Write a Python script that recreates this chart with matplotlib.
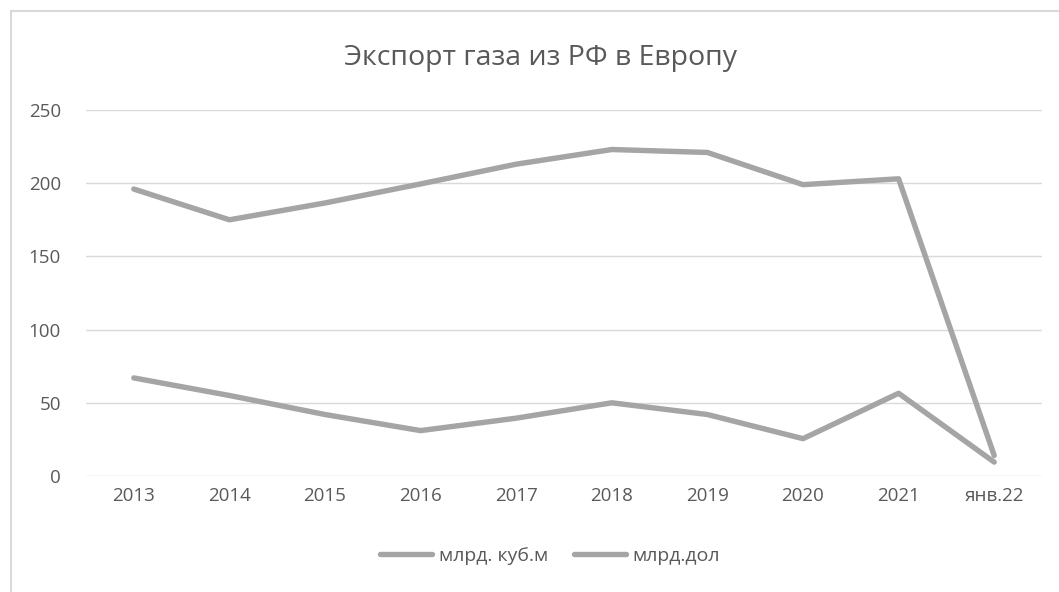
import matplotlib
matplotlib.use("Agg")
import matplotlib.pyplot as plt
from matplotlib.patches import Rectangle

plt.rcParams['font.family'] = ['Open Sans', 'DejaVu Sans']

categories = ['2013', '2014', '2015', '2016', '2017', '2018', '2019', '2020', '2021', 'янв.22']
volume_bcm = [196, 175, 186.5, 199.5, 213, 223, 221, 199, 203, 14]
value_busd = [67, 55, 42, 31, 39.5, 50, 42, 25.5, 56.5, 9.5]
yticks = [0, 50, 100, 150, 200, 250]

fig = plt.figure(figsize=(10.59, 5.92), dpi=100)
fig.patches.append(Rectangle((11/1059, -0.1), 1.2, 1.1 - 11/592, transform=fig.transFigure,
                             fill=False, edgecolor='#d9d9d9', linewidth=1.5))
ax = fig.add_axes([86/1059, 1 - 476/592, (1042 - 86)/1059, (476 - 110)/592])

x = list(range(len(categories)))
line_col = '#a5a5a5'
ax.plot(x, volume_bcm, color=line_col, lw=3.9, solid_capstyle='round', solid_joinstyle='round', label='млрд. куб.м')
ax.plot(x, value_busd, color=line_col, lw=3.9, solid_capstyle='round', solid_joinstyle='round', label='млрд.дол')

ax.set_xlim(-0.5, len(categories) - 0.5)
ax.set_ylim(0, 250)
ax.set_yticks(yticks)
ax.set_xticks(x)
ax.set_xticklabels(categories)
ax.grid(axis='y', color='#d9d9d9', lw=1.0)
ax.set_axisbelow(True)
for s in ax.spines.values():
    s.set_visible(False)
ax.tick_params(axis='both', length=0, colors='#595959', labelsize=13.5)
ax.tick_params(axis='x', pad=8)
ax.tick_params(axis='y', pad=18)

fig.text(540/1059, 1 - 58/592, 'Экспорт газа из РФ в Европу', ha='center', va='center',
         fontsize=20.5, color='#595959')

leg = fig.legend(loc='center', bbox_to_anchor=(550/1059, 1 - 556/592), ncol=2, frameon=False,
                 fontsize=14, handlelength=2.7, handletextpad=0.35, columnspacing=1.3)
for t in leg.get_texts():
    t.set_color('#595959')

fig.savefig('out.png', dpi=100)
